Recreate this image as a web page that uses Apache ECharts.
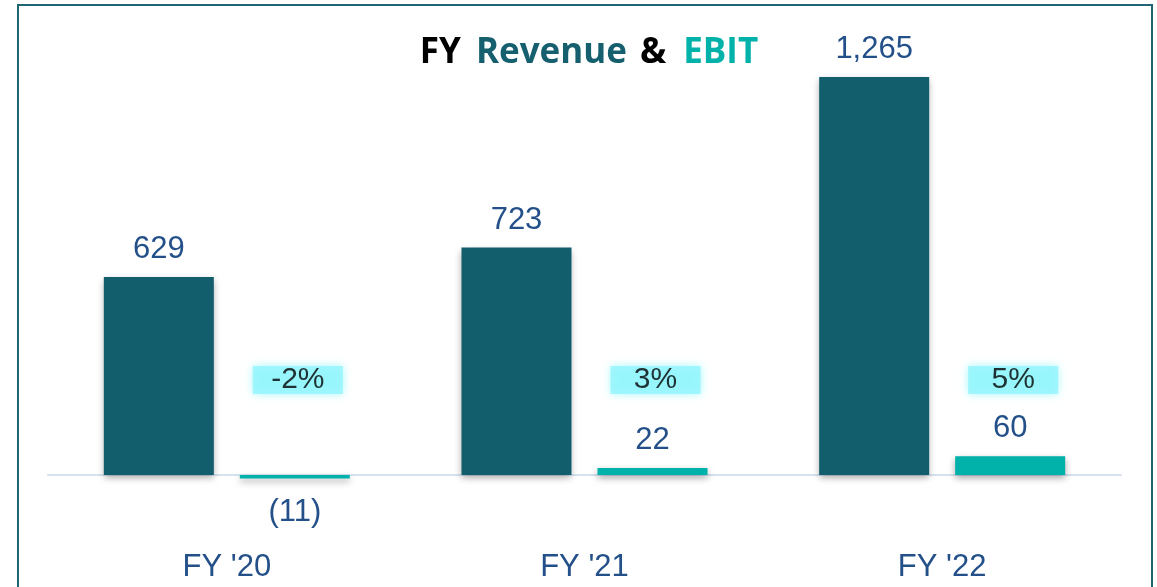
<!DOCTYPE html>
<html>
<head>
<meta charset="utf-8">
<script src="https://cdn.jsdelivr.net/npm/echarts@6/dist/echarts.min.js"></script>
<style>
  html, body { margin: 0; padding: 0; background: #ffffff; }
  #chart { width: 1157px; height: 587px; }
</style>
</head>
<body>
<div id="chart"></div>
<script>
// ---- data ----
const categories = ["FY '20", "FY '21", "FY '22"];
const revenue = [629, 723, 1265];
const ebit = [-11, 22, 60];
const marginLabels = ['-2%', '3%', '5%'];

// ---- layout / style constants ----
const BAR_W = 110;
const BAR_GAP_PX = 26;
const PAIR_OFFSET = (BAR_W + BAR_GAP_PX) / 2;
const MARGIN_LEVEL = 302; // vertical level (axis units) at which margin tags sit
const NUM_COLOR = '#24508a';
const REV_COLOR = '#135e6c';
const EBIT_COLOR = '#00b2a9';

const fmt = v => v < 0 ? '(' + Math.abs(v).toLocaleString('en-US') + ')' : v.toLocaleString('en-US');

const barShadow = { shadowColor: 'rgba(0,0,0,0.35)', shadowBlur: 7, shadowOffsetY: 3 };
const numLabel = {
  show: true, position: 'top', distance: 12,
  fontFamily: 'Liberation Sans', fontSize: 31, color: NUM_COLOR,
  formatter: p => fmt(p.value)
};
const titleFont = { fontFamily: 'Open Sans', fontWeight: 'bold', fontSize: 35 };

const chart = echarts.init(document.getElementById('chart'), null, { renderer: 'canvas' });
chart.setOption({
  animation: false,
  backgroundColor: '#ffffff',
  title: {
    left: 584, top: 31, textAlign: 'center',
    text: '{a|FY}{s1| }{b|Revenue}{s2| }{a|&}{s3| }{c|EBIT}',
    textStyle: {
      rich: {
        a: Object.assign({ color: '#000000' }, titleFont),
        b: Object.assign({ color: '#165f6e' }, titleFont),
        c: Object.assign({ color: '#00b2a9' }, titleFont),
        s1: Object.assign({ color: '#000000', width: 15 }, titleFont),
        s2: Object.assign({ color: '#000000', width: 13 }, titleFont),
        s3: Object.assign({ color: '#000000', width: 17 }, titleFont)
      }
    }
  },
  graphic: [{
    type: 'rect', silent: true, z: 100,
    shape: { x: 18, y: 5, width: 1134, height: 620 },
    style: { fill: 'none', stroke: '#1f6675', lineWidth: 2 }
  }],
  grid: { left: 48, right: 36, top: 34.5, bottom: 80.5, containLabel: false, outerBoundsMode: 'none' },
  xAxis: {
    type: 'category', data: categories,
    axisLine: { show: true, onZero: true, lineStyle: { color: '#d6e2f0', width: 2 } },
    axisTick: { show: false },
    axisLabel: { margin: 45, fontFamily: 'Liberation Sans', fontSize: 31, color: NUM_COLOR }
  },
  yAxis: {
    type: 'value', min: -100, max: 1400, show: false,
    splitLine: { show: false }
  },
  series: [
    {
      name: 'Revenue', type: 'bar', barWidth: BAR_W,
      barGap: (BAR_GAP_PX / BAR_W * 100).toFixed(2) + '%',
      data: revenue,
      itemStyle: Object.assign({ color: REV_COLOR }, barShadow),
      label: numLabel
    },
    {
      name: 'EBIT', type: 'bar', barWidth: BAR_W,
      data: ebit.map(v => v < 0 ? { value: v, label: { position: 'bottom', distance: 18 } } : v),
      itemStyle: Object.assign({ color: EBIT_COLOR }, barShadow),
      label: numLabel
    },
    {
      name: 'Margin', type: 'scatter', symbolSize: 0, z: 5,
      data: marginLabels.map(() => MARGIN_LEVEL),
      label: {
        show: true, position: 'inside', offset: [PAIR_OFFSET + 3, 0],
        formatter: p => marginLabels[p.dataIndex],
        fontFamily: 'Liberation Sans', fontSize: 30, color: '#000000',
        backgroundColor: '#92f5fb', width: 90, height: 28, lineHeight: 28, align: 'center',
        shadowColor: '#92f5fb', shadowBlur: 8, padding: [0, 0]
      }
    }
  ]
});
</script>
</body>
</html>
